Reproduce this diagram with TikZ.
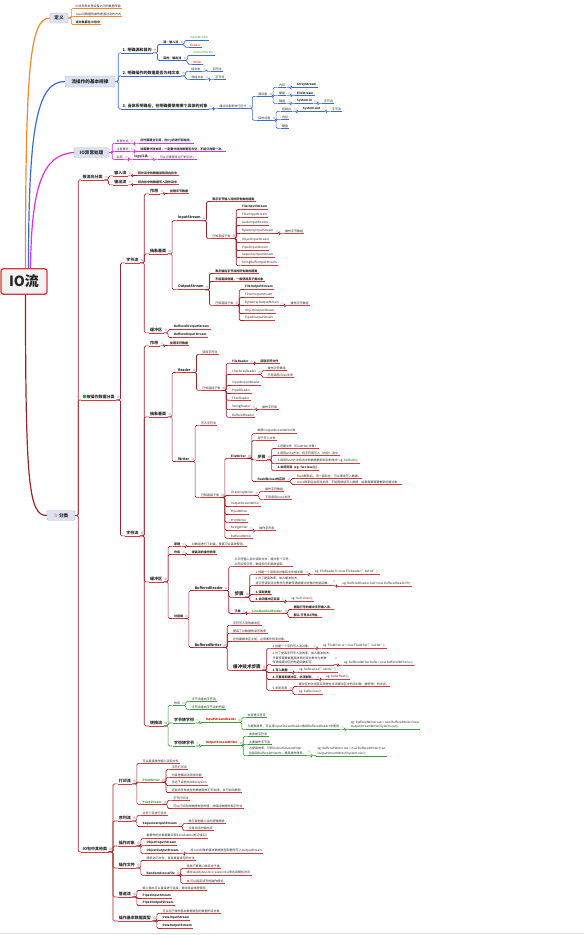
\documentclass[tikz,border=0pt]{standalone}
\usepackage{fontspec}
\setmainfont{Noto Sans CJK SC}

\definecolor{orn}{HTML}{F0892A}
\definecolor{blu}{HTML}{3B6BD6}
\definecolor{mag}{HTML}{E02DE0}
\definecolor{drd}{HTML}{9E2229}
\definecolor{lrd}{HTML}{D63A40}
\definecolor{grn}{HTML}{3C9A3C}
\definecolor{rootred}{HTML}{D9363E}
\definecolor{boxfill}{HTML}{DDE2F2}
\colorlet{lk}{drd}
\colorlet{ul}{lrd}

\tikzset{
  leaf/.style={anchor=west, inner xsep=1.2pt, inner ysep=0.8pt, text=black!85,
    align=left, font=\fontsize{3}{4.4}\selectfont},
  leafb/.style={font=\fontsize{3}{4.4}\selectfont\bfseries},
  cls/.style={font=\fontsize{3.5}{4.2}\selectfont\bfseries},
  mid/.style={font=\fontsize{4}{4.8}\selectfont\bfseries},
  big/.style={font=\fontsize{4.6}{5.5}\selectfont\bfseries},
  uline/.style={draw=ul, line width=0.55pt},
  link/.style={draw=lk, line width=0.65pt, rounded corners=1.4pt},
  pdot/.style={draw=violet!25, line width=0.3pt},
  topbox/.style={draw=black!30, fill=boxfill, rounded corners=1.2pt, inner sep=0.8pt,
    text=black!85, font=\fontsize{4.6}{5.5}\selectfont\bfseries},
  rootbox/.style={draw=rootred, line width=1.3pt, fill=black!5, rounded corners=2.5pt,
    inner sep=0pt, minimum width=46pt, minimum height=25.5pt, text=black!85,
    font=\fontsize{14}{15}\selectfont\bfseries},
  trunk/.style={line width=1.2pt},
}

% hijo de un nodo subrayado
\newcommand{\kid}[5][]{%
  \node[leaf,#1] (#2) at ([xshift=9pt]#3.south east |- 0,#4) {#5};
  \draw[uline] (#2.south west) -- (#2.south east);
  \draw[link] (#3.south east) -- ++(4.5pt,0) |- (#2.south west);
  \path[pdot] ([xshift=2.2pt]#3.east) circle (1.1pt);
}
% hijo de un recuadro
\newcommand{\bkid}[5][]{%
  \node[leaf,#1] (#2) at ([xshift=6pt]#3.east |- 0,#4) {#5};
  \draw[uline] (#2.south west) -- (#2.south east);
  \draw[link] (#3.east) -- ++(3pt,0) |- (#2.south west);
}

\begin{document}
\begin{tikzpicture}[x=1pt,y=-1pt]
\useasboundingbox (0,0) rectangle (584,935);

% Raiz
\node[rootbox] (io) at (24,281.5) {IO流};

% Ramas principales
\node[topbox, minimum width=18pt, minimum height=10pt] (dy) at (59,18) {定义};
\node[topbox, minimum width=50pt, minimum height=11pt] (gl) at (90,81.5) {流操作的基本规律};
\node[topbox, minimum width=35pt, minimum height=9.5pt] (yc) at (91.5,152.5) {IO异常处理};
\node[topbox, minimum width=28pt, minimum height=9.5pt] (fl) at (61,515.5) {{\color{rootred}☆}\,分类};

\draw[trunk, orn] ([xshift=1.5pt]io.north) .. controls +(0,-200) and +(-20,0) .. (dy.west);
\draw[trunk, blu] ([xshift=4.5pt]io.north) .. controls +(0,-140) and +(-28,0) .. (gl.west);
\draw[trunk, mag] ([xshift=6.5pt]io.north) .. controls +(1,-80) and +(-32,2) .. (yc.west);
\draw[trunk, drd] ([xshift=1.5pt]io.south) .. controls +(0,190) and +(-18,0) .. (fl.west);

% 定义
\begin{scope}
\colorlet{lk}{orn}\colorlet{ul}{orn}
\bkid{dy1}{dy}{6}{IO流用来处理设备之间的数据传输}
\bkid{dy2}{dy}{14}{Java对数据的操作是通过流的方式}
\bkid[leafb]{dy3}{dy}{22}{流对象都在IO包中}
\end{scope}

% 流操作的基本规律
\begin{scope}
\colorlet{lk}{blu}\colorlet{ul}{blu}
\bkid[mid]{g1}{gl}{50}{1. 明确源和目的}
\kid[leafb]{g1a}{g1}{42}{源：输入流}
\kid[text=grn]{g1a1}{g1a}{38}{InputStream}
\kid[text=red]{g1a2}{g1a}{45}{Reader}
\kid[leafb]{g1b}{g1}{58}{目的：输出流}
\kid[text=grn]{g1b1}{g1b}{53}{OutputStream}
\kid[text=red]{g1b2}{g1b}{62}{Writer}
\bkid[mid]{g2}{gl}{73}{2. 明确操作的数据是否为纯文本}
\kid{g2a}{g2}{69}{纯文本}
\kid{g2a1}{g2a}{69}{字符流}
\kid{g2b}{g2}{77}{非纯文本}
\kid{g2b1}{g2b}{77}{字节流}
\bkid[mid]{g3}{gl}{106}{3. 当体系明确后，在明确要使用哪个具体的对象}
\kid{g3a}{g3}{106}{通过设备来进行区分}
\kid{src}{g3a}{94}{源设备}
\kid{src1}{src}{85}{内存}
\kid[leafb]{src1a}{src1}{85}{ArrayStream}
\kid{src2}{src}{93}{硬盘}
\kid[leafb]{src2a}{src2}{93}{FileStream}
\kid{src3}{src}{101}{键盘}
\kid[leafb]{src3a}{src3}{101}{System.in}
\kid{src3b}{src3a}{101}{字节流}
\kid{dst}{g3a}{118}{目的设备}
\kid{dst1}{dst}{109}{控制台}
\kid[leafb]{dst1a}{dst1}{109}{System.out}
\kid{dst1b}{dst1a}{109}{字节流}
\kid{dst2}{dst}{117}{内存}
\kid{dst3}{dst}{126}{硬盘}
\end{scope}

% IO异常处理
\begin{scope}
\colorlet{lk}{mag}\colorlet{ul}{mag}
\bkid{yc1}{yc}{141}{处理方式}
\kid[leafb]{yc1a}{yc1}{141}{在外面建立引用，在try内进行初始化。}
\bkid{yc2}{yc}{149}{注意事项}
\kid[leafb]{yc2a}{yc2}{149}{流需要分别关闭，一定要分别判断是否为空，不能只判断一次。}
\bkid{yc3}{yc}{157}{运用}
\kid[leafb]{yc3a}{yc3}{157}{log4j工具}
\kid{yc3b}{yc3a}{157}{可以记录程序运行的日志。}
\end{scope}

% 分类: 按流向
\bkid[mid]{lx}{fl}{177}{按流向分类}
\kid[mid]{lx1}{lx}{173}{输入流}
\kid[leafb]{lx1a}{lx1}{173}{将外设中的数据读取到内存中}
\kid[mid]{lx2}{lx}{182}{输出流}
\kid[leafb]{lx2a}{lx2}{182}{将内存中的数据写入到外设中}

% 分类: 按操作数据 -- 字节流
\bkid[mid]{sj}{fl}{397}{{\color{grn}●}按操作数据分类}
\kid[mid]{zj}{sj}{260}{字节流}
\kid[mid]{zj1}{zj}{191}{作用}
\kid[leafb]{zj1a}{zj1}{191}{处理字节数据}
\kid[mid]{zjb}{zj}{251}{抽象基类}
\kid[cls]{ips}{zjb}{218}{InputStream}
\kid[leafb]{ips1}{ips}{199}{表示字节输入流的所有类的超类}
\kid{ipk}{ips}{236}{已知直接子类}
\kid[leafb]{ipka}{ipk}{207}{FileInputStream}
\kid{ipkd}{ipk}{231}{ByteArrayInputStream}
\kid{ipkd1}{ipkd}{231}{操作字节数组}
\foreach \nm/\yy/\txt in {b/215/FilterInputStream, c/223/AudioInputStream,
    e/240/ObjectInputStream, f/248/PipedInputStream, g/255/SequenceInputStream,
    h/263/StringBufferInputStream}{
  \kid{ipk\nm}{ipk}{\yy}{\txt}
}
\kid[cls]{ops}{zjb}{287}{OutputStream}
\kid[leafb]{ops1}{ops}{271}{表示输出字节流的所有类的超类}
\kid[leafb]{ops2}{ops}{279}{不能直接创建，一般使用其子类对象}
\kid{opk}{ops}{303}{已知直接子类}
\kid[leafb]{opka}{opk}{287}{FileOutputStream}
\kid{opkc}{opk}{303}{ByteArrayOutputStream}
\kid{opkc1}{opkc}{303}{操作字节数组}
\foreach \nm/\yy/\txt in {b/295/FilterOutputStream, d/311/ObjectOutputStream,
    e/318/PipedOutputStream}{
  \kid{opk\nm}{opk}{\yy}{\txt}
}
\kid[mid]{zjh}{zj}{330}{缓冲区}
\kid[leafb]{zjh1}{zjh}{327}{BufferedOutputStream}
\kid[leafb]{zjh2}{zjh}{335}{BufferedInputStream}

% 分类: 按操作数据 -- 字符流
\kid[mid]{zf}{sj}{533}{字符流}
\kid[mid]{zf1}{zf}{343}{作用}
\kid[leafb]{zf1a}{zf1}{343}{处理字符数据}
\kid[mid]{zfb}{zf}{414}{抽象基类}
\kid[cls]{rd}{zfb}{370}{Reader}
\kid{rd1}{rd}{352}{读取字符流}
\kid{rdk}{rd}{388}{已知直接子类}
\kid[leafb]{rdk1}{rdk}{361}{FileReader}
\kid[leafb]{rdk1a}{rdk1}{361}{读取字符文件}
\kid{rdk2}{rdk}{372}{CharArrayReader}
\kid{rdk2a}{rdk2}{368}{操作字符数组}
\kid{rdk2b}{rdk2}{375}{不用调用close关闭}
\foreach \nm/\yy/\txt in {3/383/InputStreamReader, 4/391/PipedReader,
    5/398/FilterReader, 7/415/BufferedReader}{
  \kid{rdk\nm}{rdk}{\yy}{\txt}
}
\kid{rdk6}{rdk}{407}{StringReader}
\kid{rdk6a}{rdk6}{407}{操作字符串}
\kid[cls]{wr}{zfb}{459}{Writer}
\kid{wr1}{wr}{423}{写入字符流}
\kid{wrk}{wr}{495}{已知直接子类}
\kid[leafb]{fw}{wrk}{456}{FileWriter}
\kid{fw1}{fw}{431}{继承OutputStreamWriter类}
\kid{fw2}{fw}{438}{用于写入文件}
\kid[mid]{fwb}{fw}{457}{步骤}
\kid{fwb1}{fwb}{446}{1.创建文件（FileWriter对象）}
\kid{fwb2}{fwb}{453}{2.调用write方法，将字符串写入（内存）流中}
\kid{fwb3}{fwb}{461}{3.调用flush方法将流中的数据刷新到目的地中\ \ eg: fw.flush();}
\kid[leafb]{fwb4}{fwb}{468}{4.关闭资源\ \ (eg: fw.close();)}
\kid[leafb]{fwd}{fw}{479}{flush和close的区别}
\kid{fwd1}{fwd}{476}{flush刷新后，流一直存在，可以继续写入数据。}
\kid{fwd2}{fwd}{482}{close刷新后会将流关闭，不能再继续写入数据，如果需要需要重新创建对象。}
\kid{wrk2}{wrk}{493}{CharArrayWriter}
\kid{wrk2a}{wrk2}{489}{操作字符数组}
\kid{wrk2b}{wrk2}{497}{不用调用close关闭}
\foreach \nm/\yy/\txt in {3/504/OutputStreamWriter, 4/512/PipedWriter,
    5/520/PrintWriter, 7/536/BufferedWriter}{
  \kid{wrk\nm}{wrk}{\yy}{\txt}
}
\kid{wrk6}{wrk}{528}{StringWriter}
\kid{wrk6a}{wrk6}{528}{操作字符串}

% 字符流 -- 缓冲区
\kid[mid]{zfh}{zf}{579}{缓冲区}
\kid[leafb]{zfh1}{zfh}{544}{原理}
\kid{zfh1a}{zfh1}{544}{对数组进行了封装，使其可以高效使用。}
\kid[leafb]{zfh2}{zfh}{552}{作用}
\kid[leafb]{zfh2a}{zfh2}{552}{提高流的操作效率}
\kid[leafb]{zfl}{zfh}{616}{对应类}
\kid[cls]{br}{zfl}{588}{BufferedReader}
\kid{br1}{br}{562}{从字符输入流中读取文本，缓冲各个字符，\\从而实现字符、数组和行的高效读取。}
\kid[big]{brb}{br}{594}{步骤}
\kid{brb1}{brb}{572}{1.创建一个读取流对象和文件相关联}
\kid{brb1a}{brb1}{572}{eg: FileReader fr=new FileReader("buf.txt");}
\kid{brb2}{brb}{581}{2.为了提高效率，加入缓冲技术，\\将字符读取流对象作为参数传递给缓冲对象的构造函数。}
\kid{brb2a}{brb2}{584}{eg: BufferedReader bufr=new BufferedReader(fr);}
\kid[leafb]{brb3}{brb}{592}{3.读取数据}
\kid[leafb]{brb4}{brb}{599}{4.关闭缓冲区资源}
\kid{brb4a}{brb4}{599}{eg: bufr.close();}
\kid[leafb]{brz}{br}{611}{子类}
\kid[leafb,text=grn]{lnr}{brz}{611}{LineNumberReader}
\kid[leafb]{lnr1}{lnr}{607}{跟踪行号的缓冲字符输入流。}
\kid[leafb]{lnr2}{lnr}{615}{默认 行号从0开始。}
\kid[cls]{bw}{zfl}{645}{BufferedWriter}
\kid{bw1}{bw}{623}{字符写入流的缓冲区}
\kid{bw2}{bw}{631}{提高了对数据的读写效率}
\kid{bw3}{bw}{639}{在创建缓冲区之前，必须要先有流对象。}
\kid[big]{bwb}{bw}{667}{缓冲技术步骤}
\kid{bwb1}{bwb}{646}{1.创建一个字符写入流对象。}
\kid{bwb1a}{bwb1}{646}{eg: FileWriter w = new FileWriter("buf.txt");}
\kid{bwb2}{bwb}{658}{2.为了提高字符写入流效率，加入缓冲技术。\\只要将需要被提高效率的流对象作为参数\\传递给缓冲区的构造函数即可。}
\kid{bwb2a}{bwb2}{663}{eg: BufferedWriter bufw = new BufferedWriter(w);}
\kid[leafb]{bwb3}{bwb}{670}{3.写入数据}
\kid{bwb3a}{bwb3}{670}{eg: bufw.write("abcde");}
\kid[leafb]{bwb4}{bwb}{677}{4.只要用到缓冲区，必须刷新。}
\kid{bwb4a}{bwb4}{677}{eg: bufw.flush();}
\kid{bwb5}{bwb}{688}{5.关闭资源}
\kid{bwb5a}{bwb5}{684}{缓冲区的关闭其实就是在关闭缓冲区中的流对象（被修饰）的关闭。}
\kid{bwb5b}{bwb5}{692}{eg: bufw.close();}

% 字符流 -- 转换流
\kid[mid]{zh}{zf}{723}{转换流}
\begin{scope}
\colorlet{lk}{grn}\colorlet{ul}{grn}
\kid{zh1}{zh}{703}{作用}
\kid{zh1a}{zh1}{699}{字节流通向字符流}
\kid{zh1b}{zh1}{707}{字符流通向字节流的桥梁}
\kid[mid]{zh2}{zh}{720}{字节转字符}
\kid[leafb,text=red]{isr}{zh2}{720}{InputStreamReader}
\kid{isr1}{isr}{715}{本身是字符流}
\kid{isr2}{isr}{727}{为提高效率，可以将InputStreamReader放到BufferedReader中使用}
\kid{isr2a}{isr2}{724.5}{eg: BufferedWriter out = new BufferedWriter(new\\OutputStreamWriter(System.out));}
\kid[mid]{zh3}{zh}{743}{字符转字节}
\kid[leafb,text=red]{osw}{zh3}{743}{OutputStreamWriter}
\kid{osw1}{osw}{734}{本身是字符流}
\kid{osw2}{osw}{742}{主要操作字节流}
\kid{osw3}{osw}{751}{为提高效率，可将OutputStreamWriter\\包装到BufferedWriter中，提高操作效率。}
\kid{osw3a}{osw3}{751}{eg: BufferedWriter out = new BufferedWriter(new\\OutputStreamWriter(System.out));}
\end{scope}

% 分类: IO包中其他类
\bkid[mid]{qt}{fl}{849}{IO包中其他类}
\kid[mid]{pr}{qt}{781}{打印流}
\kid{pr0}{pr}{761}{可以直接操作输入流和文件}
\kid[leafb,text=grn]{pw}{pr}{780}{PrintWriter}
\kid{pw1}{pw}{767}{字符打印流}
\kid{pw2}{pw}{775}{为其他输出流添加功能}
\kid{pw3}{pw}{783}{永远不会抛出IOException}
\kid{pw4}{pw}{790}{还能将多种类型的数据原样打印出来，并可自动刷新}
\kid[leafb,text=grn]{ps}{pr}{802}{PrintStream}
\kid{ps1}{ps}{798}{字节打印流}
\kid{ps2}{ps}{806}{可以打印各种数据类型的值，并保持数据的表示形式}
\kid[mid]{sq}{qt}{818}{序列流}
\kid{sq0}{sq}{813}{对多个流进行合并}
\kid[leafb]{sis}{sq}{824}{SequenceInputStream}
\kid{sis1}{sis}{821}{表示其他输入流的逻辑串联}
\kid{sis2}{sis}{828}{没有对应的输出流}
\kid[mid]{ob}{qt}{843}{操作对象}
\kid{ob0}{ob}{836}{被操作的对象需要实现Serializable(标记接口)}
\kid[leafb]{ois}{ob}{843}{ObjectInputStream}
\kid[leafb]{oos}{ob}{851}{ObjectOutputStream}
\kid{oos1}{oos}{851}{将Java对象的基本数据类型和图形写入OutputStream}
\kid[mid]{ra}{qt}{865}{操作文件}
\kid{ra0}{ra}{858}{随机访问文件，自身具备读写的方法}
\kid[leafb]{raf}{ra}{873}{RandomAccessFile}
\kid{raf1}{raf}{866}{该类不算是IO体系中子类}
\kid{raf2}{raf}{873}{通过skipBytes(int x),seek(int x)来达到随机访问}
\kid{raf3}{raf}{881}{{\color{red}★} 可以指定读写的操作模式}
\kid[mid]{pp}{qt}{894}{管道流}
\kid{pp0}{pp}{888}{输入输出可以直接进行连接，通过结合线程使用}
\kid[leafb]{pis}{pp}{896}{PipedInputStream}
\kid[leafb]{pos}{pp}{903}{PipedOutputStream}
\kid[mid]{dt}{qt}{918}{操作基本数据类型}
\kid{dt0}{dt}{911}{可以用于操作基本数据类型的数据的流对象}
\kid[leafb]{dis}{dt}{918}{DataInputStream}
\kid[leafb]{dos}{dt}{926}{DataOutputStream}

% Borde inferior
\draw[black!12, line width=1.2pt] (0,933.5) -- (584,933.5);
\end{tikzpicture}
\end{document}
